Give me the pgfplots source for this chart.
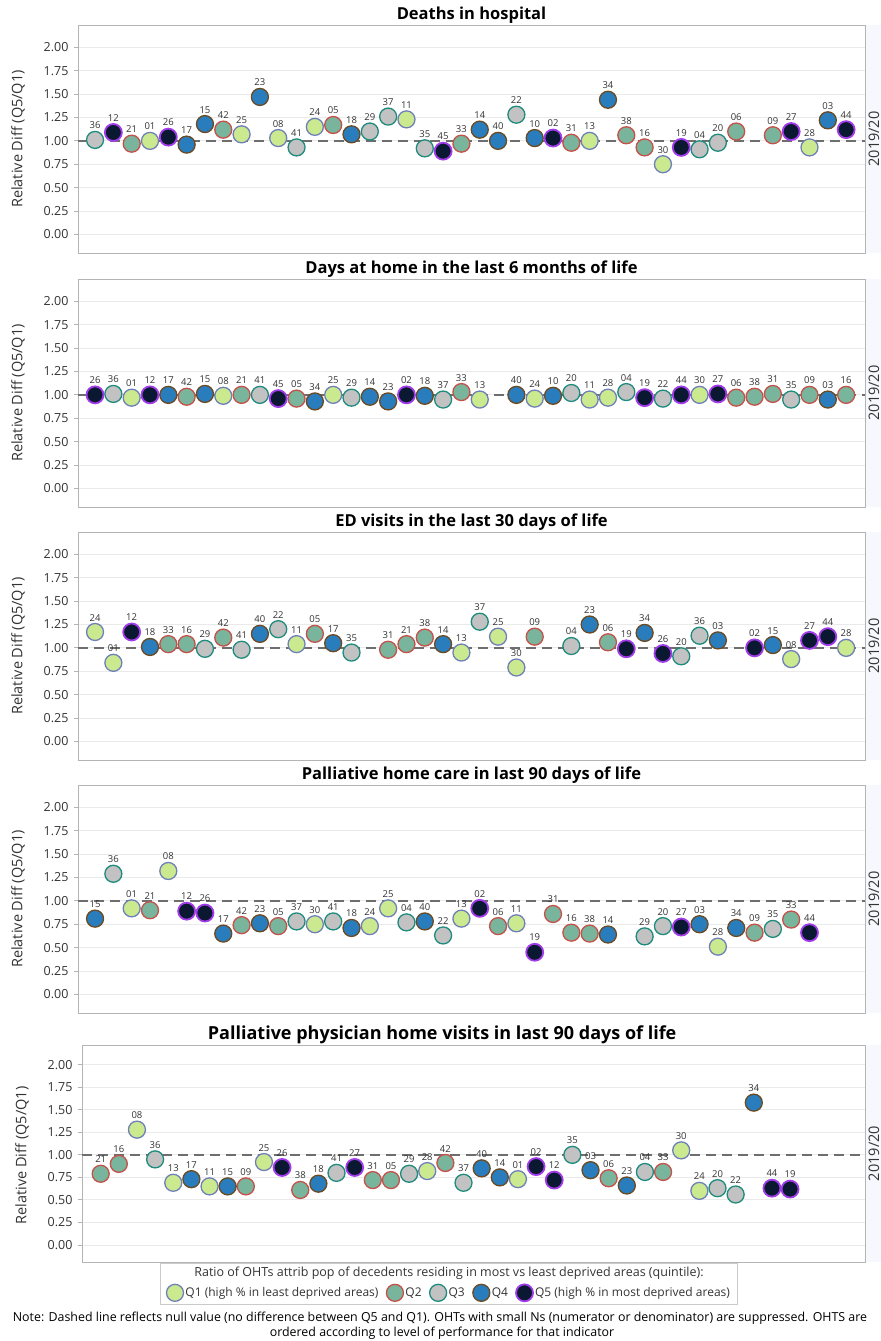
\documentclass[border=0pt]{standalone}
\usepackage{fontspec}
\setmainfont{Open Sans}
\usepackage{pgfplots}
\pgfplotsset{compat=1.18}
\definecolor{q1f}{HTML}{CBE98F}
\definecolor{q1l}{HTML}{6F80B8}
\definecolor{q2f}{HTML}{79B49C}
\definecolor{q2l}{HTML}{C4524A}
\definecolor{q3f}{HTML}{C2C2C2}
\definecolor{q3l}{HTML}{1E8B7C}
\definecolor{q4f}{HTML}{2A7DBD}
\definecolor{q4l}{HTML}{6B4A22}
\definecolor{q5f}{HTML}{0B1832}
\definecolor{q5l}{HTML}{A23BEA}
\definecolor{gridc}{HTML}{EAEAEA}
\definecolor{framec}{HTML}{B4B4B4}
\definecolor{dashc}{HTML}{6E6E6E}
\definecolor{stripc}{HTML}{F7F8FD}
\definecolor{txt}{HTML}{333333}
\pgfplotsset{
  base/.style={
    scale only axis, width=787bp, height=228bp,
    xmin=-0.93, xmax=42.03, ymin=-0.2, ymax=2.24,
    xtick=\empty,
    ytick={0,0.25,0.5,0.75,1,1.25,1.5,1.75,2},
    yticklabel style={/pgf/number format/fixed, /pgf/number format/fixed zerofill, /pgf/number format/precision=2, /pgf/number format/assume math mode=true, font=\fontsize{12.5bp}{13bp}\selectfont, text=txt, xshift=-2bp},
    ymajorgrids, major grid style={gridc, line width=0.8bp},
    axis line style={framec, line width=0.8bp},
    major tick length=4bp, tick align=outside, ytick style={framec, line width=0.8bp},
    ylabel={Relative Diff (Q5/Q1)},
    every axis y label/.style={at={(axis description cs:0,0.5)}, xshift=-60bp, rotate=90, anchor=center, font=\fontsize{14.5bp}{14.5bp}\selectfont, text=txt},
    every axis title/.style={at={(axis description cs:0.5,1)}, anchor=south, yshift=-1.5bp, font=\bfseries\fontsize{16.5bp}{17bp}\selectfont, text=black},
    clip=false,
    point meta=explicit symbolic,
    nodes near coords,
    every node near coord/.append style={anchor=south, font=\fontsize{9.5bp}{9.5bp}\selectfont, text=txt, inner sep=1bp, yshift=9.3bp},
  },
  q1/.style={only marks, mark=*, mark size=8.5bp, draw=q1l, fill=q1f, line width=1.3bp},
  q2/.style={only marks, mark=*, mark size=8.5bp, draw=q2l, fill=q2f, line width=1.3bp},
  q3/.style={only marks, mark=*, mark size=8.5bp, draw=q3l, fill=q3f, line width=1.3bp},
  q4/.style={only marks, mark=*, mark size=8.5bp, draw=q4l, fill=q4f, line width=1.3bp},
  q5/.style={only marks, mark=*, mark size=8.5bp, draw=q5l, fill=q5f, line width=1.8bp},
  nullline/.style={forget plot, no marks, nodes near coords=\empty, dashc, line width=1.3bp, dash pattern=on 10bp off 6bp},
}
\begin{document}
\begin{tikzpicture}
% Panel 1
\begin{axis}[base, at={(78bp,-253bp)}, anchor=south west, title={Deaths in hospital}]
\addplot[q1] coordinates {(3,1.00)[01] (8,1.07)[25] (10,1.03)[08] (12,1.15)[24] (17,1.23)[11] (27,1.00)[13] (31,0.75)[30] (39,0.93)[28]};
\addplot[q2] coordinates {(2,0.97)[21] (7,1.12)[42] (13,1.17)[05] (20,0.97)[33] (26,0.98)[31] (29,1.06)[38] (30,0.93)[16] (35,1.10)[06] (37,1.06)[09]};
\addplot[q3] coordinates {(0,1.01)[36] (11,0.93)[41] (15,1.10)[29] (16,1.26)[37] (18,0.92)[35] (23,1.28)[22] (33,0.91)[04] (34,0.98)[20]};
\addplot[q4] coordinates {(5,0.96)[17] (6,1.18)[15] (9,1.47)[23] (14,1.07)[18] (21,1.12)[14] (22,1.00)[40] (24,1.03)[10] (28,1.44)[34] (40,1.22)[03]};
\addplot[q5] coordinates {(1,1.09)[12] (4,1.04)[26] (19,0.89)[45] (25,1.03)[02] (32,0.93)[19] (38,1.10)[27] (41,1.12)[44]};
\addplot[nullline] coordinates {(-0.93,1) (42.03,1)};
\end{axis}
% Panel 2
\begin{axis}[base, at={(78bp,-507bp)}, anchor=south west, title={Days at home in the last 6 months of life}]
\addplot[q1] coordinates {(2,0.97)[01] (7,0.99)[08] (13,1.00)[25] (21,0.95)[13] (24,0.96)[24] (27,0.95)[11] (28,0.97)[28] (33,1.00)[30]};
\addplot[q2] coordinates {(5,0.98)[42] (8,1.00)[21] (11,0.96)[05] (20,1.03)[33] (35,0.97)[06] (36,0.98)[38] (37,1.01)[31] (39,1.00)[09] (41,1.00)[16]};
\addplot[q3] coordinates {(1,1.01)[36] (9,1.00)[41] (14,0.97)[29] (19,0.95)[37] (26,1.02)[20] (29,1.03)[04] (31,0.96)[22] (38,0.95)[35]};
\addplot[q4] coordinates {(4,1.00)[17] (6,1.01)[15] (12,0.93)[34] (15,0.98)[14] (16,0.93)[23] (18,0.99)[18] (23,1.00)[40] (25,0.99)[10] (40,0.95)[03]};
\addplot[q5] coordinates {(0,1.00)[26] (3,1.00)[12] (10,0.96)[45] (17,1.00)[02] (30,0.97)[19] (32,1.00)[44] (34,1.01)[27]};
\addplot[nullline] coordinates {(-0.93,1) (42.03,1)};
\end{axis}
% Panel 3
\begin{axis}[base, at={(78bp,-760bp)}, anchor=south west, title={ED visits in the last 30 days of life}]
\addplot[q1] coordinates {(0,1.17)[24] (1,0.84)[01] (11,1.04)[11] (20,0.95)[13] (22,1.12)[25] (23,0.79)[30] (38,0.88)[08] (41,1.00)[28]};
\addplot[q2] coordinates {(4,1.04)[33] (5,1.04)[16] (7,1.11)[42] (12,1.15)[05] (16,0.98)[31] (17,1.04)[21] (18,1.11)[38] (24,1.12)[09] (28,1.06)[06]};
\addplot[q3] coordinates {(6,0.99)[29] (8,0.98)[41] (10,1.20)[22] (14,0.95)[35] (21,1.28)[37] (26,1.02)[04] (32,0.91)[20] (33,1.13)[36]};
\addplot[q4] coordinates {(3,1.01)[18] (9,1.15)[40] (13,1.05)[17] (19,1.04)[14] (27,1.25)[23] (30,1.16)[34] (34,1.08)[03] (37,1.03)[15]};
\addplot[q5] coordinates {(2,1.17)[12] (29,0.99)[19] (31,0.94)[26] (36,1.00)[02] (39,1.08)[27] (40,1.12)[44]};
\addplot[nullline] coordinates {(-0.93,1) (42.03,1)};
\end{axis}
% Panel 4
\begin{axis}[base, at={(78bp,-1013bp)}, anchor=south west, title={Palliative home care in last 90 days of life}]
\addplot[q1] coordinates {(2,0.92)[01] (4,1.32)[08] (12,0.75)[30] (15,0.73)[24] (16,0.92)[25] (20,0.81)[13] (23,0.76)[11] (34,0.51)[28]};
\addplot[q2] coordinates {(3,0.90)[21] (8,0.74)[42] (10,0.73)[05] (22,0.73)[06] (25,0.86)[31] (26,0.66)[16] (27,0.65)[38] (36,0.66)[09] (38,0.80)[33]};
\addplot[q3] coordinates {(1,1.29)[36] (11,0.78)[37] (13,0.78)[41] (17,0.77)[04] (19,0.63)[22] (30,0.62)[29] (31,0.73)[20] (37,0.70)[35]};
\addplot[q4] coordinates {(0,0.81)[15] (7,0.65)[17] (9,0.76)[23] (14,0.71)[18] (18,0.78)[40] (28,0.64)[14] (33,0.75)[03] (35,0.71)[34]};
\addplot[q5] coordinates {(5,0.89)[12] (6,0.87)[26] (21,0.92)[02] (24,0.45)[19] (32,0.72)[27] (39,0.66)[44]};
\addplot[nullline] coordinates {(-0.93,1) (42.03,1)};
\end{axis}
% Panel 5
\begin{axis}[base, at={(82bp,-1262bp)}, anchor=south west, width=783bp, height=217bp,
  xmin=-1.03, xmax=42.13, ymin=-0.19, ymax=2.22,
  every axis y label/.append style={xshift=-2bp},
  title={Palliative physician home visits in last 90 days of life},
  every axis title/.append style={at={(axis description cs:0.46,1)}, font=\bfseries\fontsize{18bp}{18bp}\selectfont, yshift=-1bp},
  legend columns=5,
  legend style={at={(0.469,-0.142)}, anchor=center, draw=none, fill=none, font=\fontsize{12bp}{13bp}\selectfont, text=txt, /tikz/every even column/.append style={column sep=6bp}},
  legend cell align=left]
\addplot[q1] coordinates {(2,1.28)[08] (4,0.69)[13] (6,0.65)[11] (9,0.92)[25] (18,0.82)[28] (23,0.73)[01] (32,1.05)[30] (33,0.60)[24]};
\addlegendentry{Q1 (high \% in least deprived areas)}
\addplot[q2] coordinates {(0,0.79)[21] (1,0.90)[16] (8,0.65)[09] (11,0.61)[38] (15,0.72)[31] (16,0.72)[05] (19,0.91)[42] (28,0.74)[06] (31,0.81)[33]};
\addlegendentry{Q2}
\addplot[q3] coordinates {(3,0.95)[36] (13,0.80)[41] (17,0.79)[29] (20,0.69)[37] (26,1.00)[35] (30,0.81)[04] (34,0.63)[20] (35,0.56)[22]};
\addlegendentry{Q3}
\addplot[q4] coordinates {(5,0.73)[17] (7,0.65)[15] (12,0.68)[18] (21,0.85)[40] (22,0.75)[14] (27,0.83)[03] (29,0.66)[23] (36,1.58)[34]};
\addlegendentry{Q4}
\addplot[q5] coordinates {(10,0.86)[26] (14,0.86)[27] (24,0.87)[02] (25,0.72)[12] (37,0.63)[44] (38,0.62)[19]};
\addlegendentry{Q5 (high \% in most deprived areas)}
\addplot[nullline] coordinates {(-1.03,1) (42.13,1)};
\end{axis}
% right strips
\foreach \t/\b in {25/253, 279/507, 532/760, 785/1013, 1045/1262} {
  \fill[stripc] (865bp,-\t bp) rectangle (890bp,-\b bp);
  \draw[framec, line width=0.8bp] (865bp,-\t bp) -- (865bp,-\b bp);
  \node[rotate=90, font=\fontsize{14.5bp}{14.5bp}\selectfont, text=txt, inner sep=0pt] at (874bp,{-(\t+\b)/2*1bp}) {2019/20};
}
% legend frame and header
\draw[framec!70, line width=0.8bp] (160bp,-1263bp) rectangle (737bp,-1304bp);
\node[font=\fontsize{12.5bp}{13bp}\selectfont, text=txt] at (449bp,-1273bp) {Ratio of OHTs attrib pop of decedents residing in most vs least deprived areas (quintile):};
\node[font=\fontsize{12.4bp}{13bp}\selectfont, text=black] at (440bp,-1318bp) {Note: Dashed line reflects null value (no difference between Q5 and Q1). OHTs with small Ns (numerator or denominator) are suppressed. OHTS are};
\node[font=\fontsize{12.4bp}{13bp}\selectfont, text=black] at (442bp,-1333bp) {ordered according to level of performance for that indicator};
\pgfresetboundingbox
\useasboundingbox (0bp,0bp) rectangle (881bp,-1341bp);
\end{tikzpicture}
\end{document}
